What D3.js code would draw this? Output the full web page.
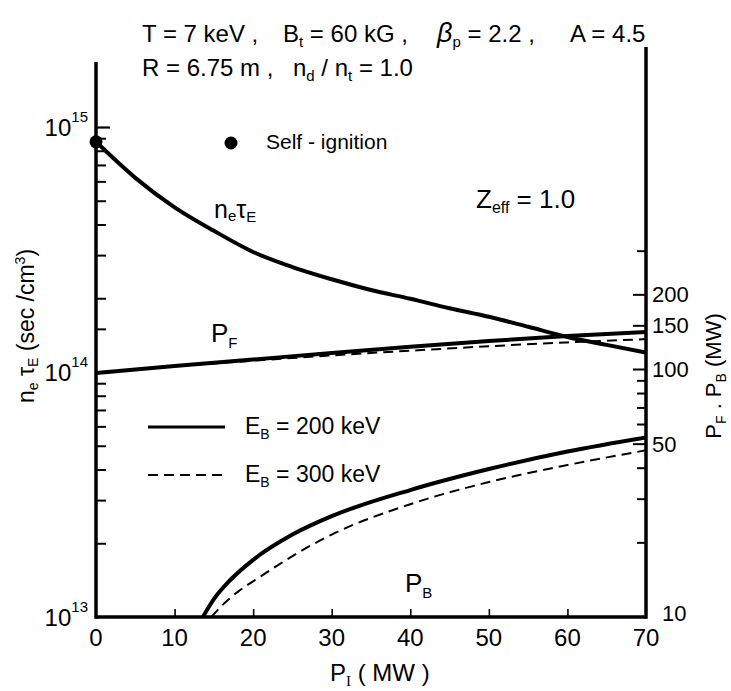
<!DOCTYPE html>
<html><head><meta charset="utf-8">
<script src="https://cdn.jsdelivr.net/npm/d3@7"></script>
<style>body{margin:0;background:#fff}svg{display:block}text{font-family:"Liberation Sans",Arial,sans-serif;fill:#000}</style>
</head><body><svg id="c" width="731" height="691"></svg>
<script>
// ---- data ----
const xTicks = [0,10,20,30,40,50,60,70];
const leftMajor = [1e13,1e14,1e15];
const leftMinor = [2e13,3e13,4e13,5e13,6e13,7e13,8e13,9e13,1.5e14,2e14,3e14,4e14,5e14,6e14,7e14,8e14,9e14];
const rightLabels = [10,50,100,150,200];
const rightMinor = [20,30,40,60,70,80,90,300];
// n_e tau_E (sec/cm^3) vs P_I (MW)
const pI = [0,5,10,15,20,25,30,35,40,45,50,55,60,65,70];
const nTau = [8.7e14,6.2e14,4.7e14,3.77e14,3.09e14,2.68e14,2.39e14,2.16e14,1.99e14,1.82e14,1.68e14,1.53e14,1.39e14,1.29e14,1.20e14];
// P_F (MW)
const pfX = [0,10,20,30,40,50,60,70];
const pf200 = [96.3,102.8,109.2,116,123,129.6,135.8,141];
const pf300 = [96.3,102.5,108,113.5,118.5,123.5,128,132];
// P_B (MW)
const pb200X = [13.6,15,17.1,20,25,30,40,50,60,70];
const pb200 = [10,11.8,14.1,17,21.5,25.5,32.5,39.5,46.5,53];
const pb300X = [14.7,16,18,21,25,30,40,50,60,70];
const pb300 = [10,11.1,12.6,14.6,17.6,21.5,28.5,35,41,47];

const svg = d3.select("#c");
const x = d3.scaleLinear().domain([0,70]).range([96,646]);
const yL = d3.scaleLog().domain([1e13,1e15]).range([617,127]);
const yR = d3.scaleLog().domain([10,100]).range([617,369]);
const AX = 3.5;

// axes lines
const g = svg.append("g");
g.append("line").attr("x1",x(0)).attr("x2",x(0)).attr("y1",62).attr("y2",yL(1e13)+AX/2).attr("stroke","#000").attr("stroke-width",AX);
g.append("line").attr("x1",x(70)).attr("x2",x(70)).attr("y1",47).attr("y2",yL(1e13)+AX/2).attr("stroke","#000").attr("stroke-width",AX);
g.append("line").attr("x1",x(0)).attr("x2",x(70)).attr("y1",yL(1e13)).attr("y2",yL(1e13)).attr("stroke","#000").attr("stroke-width",AX);

function ticks(axisFn, scale, vals, size, tx, ty, sw){
  const a = axisFn(scale).tickValues(vals).tickSize(size).tickFormat("");
  const gg = svg.append("g").attr("transform",`translate(${tx},${ty})`).call(a);
  gg.select(".domain").remove();
  gg.selectAll(".tick line").attr("stroke","#000").attr("stroke-width",sw);
}
ticks(d3.axisLeft, yL, [1e14,1e15], -14, x(0), 0, 2.2);
ticks(d3.axisLeft, yL, leftMinor, -10, x(0), 0, 2);
ticks(d3.axisRight, yR, rightLabels.filter(v=>v>10), -13, x(70), 0, 2);
ticks(d3.axisRight, yR, rightMinor, -9, x(70), 0, 2);
ticks(d3.axisBottom, x, xTicks.filter(v=>v>0&&v<70), -8, 0, yL(1e13), 1.6);

// x tick labels
svg.append("g").selectAll("text").data(xTicks).join("text")
  .attr("x",d=>x(d)).attr("y",646).attr("text-anchor","middle")
  .attr("font-size",24).text(d=>d);
// left labels 10^n
const ll = svg.append("g").selectAll("text").data(leftMajor).join("text")
  .attr("x",88).attr("y",d=>yL(d)+9).attr("text-anchor","end").attr("font-size",24);
ll.append("tspan").text("10");
ll.append("tspan").attr("dy",-14).attr("font-size",15).text(d=>Math.round(Math.log10(d)));
// right labels
svg.append("g").selectAll("text").data(rightLabels).join("text")
  .attr("x",d=>d===10?662:x(70)+6).attr("y",d=>d===10?621:yR(d)+8).attr("font-size",22).text(d=>d);

// curves
const line = (sy)=>d3.line().x(d=>x(d[0])).y(d=>sy(d[1])).curve(d3.curveMonotoneX);
const zip=(a,b)=>a.map((v,i)=>[v,b[i]]);
svg.append("clipPath").attr("id","pc").append("rect").attr("x",x(0)).attr("y",40).attr("width",x(70)-x(0)).attr("height",yL(1e13)-40);
const cg = svg.append("g").attr("clip-path","url(#pc)");
cg.append("path").attr("d",line(yL)(zip(pI,nTau))).attr("fill","none").attr("stroke","#000").attr("stroke-width",4);
cg.append("path").attr("d",line(yR)(zip(pfX,pf200))).attr("fill","none").attr("stroke","#000").attr("stroke-width",4);
cg.append("path").attr("d",line(yR)(zip(pfX,pf300))).attr("fill","none").attr("stroke","#000").attr("stroke-width",2).attr("stroke-dasharray","10,6");
cg.append("path").attr("d",line(yR)(zip(pb200X,pb200))).attr("fill","none").attr("stroke","#000").attr("stroke-width",4);
cg.append("path").attr("d",line(yR)(zip(pb300X,pb300))).attr("fill","none").attr("stroke","#000").attr("stroke-width",2).attr("stroke-dasharray","10,6");

// self-ignition dots
svg.append("circle").attr("cx",x(0)).attr("cy",yL(nTau[0])).attr("r",6.5).attr("fill","#000");
svg.append("circle").attr("cx",231).attr("cy",143).attr("r",6.5).attr("fill","#000");
svg.append("text").attr("x",266).attr("y",149).attr("font-size",21).text("Self - ignition");

// title
function seg(parent, xx, parts){
  parts.forEach((p,i)=>{
    const s = parent.append("tspan").text(p[0]);
    if(i===0) s.attr("x",xx);
    if(p[1]==="sub") s.attr("font-size",15).attr("dy",5);
    if(p[1]==="up") s.attr("dy",-5);
    if(p[1]==="it") s.attr("font-style","italic").attr("font-size",27);
  });
}
const t1 = svg.append("text").attr("y",42).attr("font-size",24);
seg(t1,142,[["T = 7 keV ,"]]);
seg(t1,283,[["B"],["t","sub"],[" = 60 kG ,","up"]]);
seg(t1,437,[["β","it"],["p","sub"],[" = 2.2 ,","up"]]);
seg(t1,570,[["A = 4.5"]]);
const t2 = svg.append("text").attr("y",76).attr("font-size",24);
seg(t2,142,[["R = 6.75 m ,"]]);
seg(t2,293,[["n"],["d","sub"],[" / n","up"],["t","sub"],["  = 1.0","up"]]);

// curve labels
const n1 = svg.append("text").attr("x",214).attr("y",218).attr("font-size",25);
n1.append("tspan").text("n");
n1.append("tspan").attr("font-size",15).attr("dy",3).text("e");
n1.append("tspan").attr("dy",-3).text("τ");
n1.append("tspan").attr("font-size",15).attr("dy",4).text("E");
const pfl = svg.append("text").attr("x",211).attr("y",342).attr("font-size",26);
pfl.append("tspan").text("P");
pfl.append("tspan").attr("font-size",15).attr("dy",6).text("F");
const pbl = svg.append("text").attr("x",405).attr("y",592).attr("font-size",26);
pbl.append("tspan").text("P");
pbl.append("tspan").attr("font-size",15).attr("dy",6).text("B");
const z = svg.append("text").attr("x",476).attr("y",208).attr("font-size",26);
z.append("tspan").text("Z");
z.append("tspan").attr("font-size",16).attr("dy",5).text("eff");
z.append("tspan").attr("dy",-5).text(" = 1.0");

// legend
svg.append("line").attr("x1",148).attr("x2",225).attr("y1",427).attr("y2",427).attr("stroke","#000").attr("stroke-width",3);
svg.append("line").attr("x1",148).attr("x2",225).attr("y1",475).attr("y2",475).attr("stroke","#000").attr("stroke-width",2).attr("stroke-dasharray","10,6");
[["E","B"," = 200 keV",434],["E","B"," = 300 keV",482]].forEach(([a,b,c,yy])=>{
  const t = svg.append("text").attr("x",245).attr("y",yy).attr("font-size",23);
  t.append("tspan").text(a);
  t.append("tspan").attr("font-size",14).attr("dy",5).text(b);
  t.append("tspan").attr("dy",-5).text(c);
});

// axis titles
const xt = svg.append("text").attr("x",330).attr("y",681).attr("font-size",24);
xt.append("tspan").text("P");
xt.append("tspan").attr("font-size",15).attr("dy",5).attr("font-family","Liberation Serif").text("I");
xt.append("tspan").attr("dy",-5).text("  ( MW )");
const yt = svg.append("text").attr("transform","translate(34,326) rotate(-90)").attr("text-anchor","middle").attr("font-size",23);
yt.append("tspan").text("n");
yt.append("tspan").attr("font-size",14).attr("dy",4).text("e");
yt.append("tspan").attr("dy",-4).text(" τ");
yt.append("tspan").attr("font-size",14).attr("dy",4).text("E");
yt.append("tspan").attr("dy",-4).text(" (sec /cm");
yt.append("tspan").attr("font-size",14).attr("dy",-9).text("3");
yt.append("tspan").attr("dy",9).text(")");
const yt2 = svg.append("text").attr("transform","translate(721,376) rotate(-90)").attr("text-anchor","middle").attr("font-size",22);
yt2.append("tspan").text("P");
yt2.append("tspan").attr("font-size",14).attr("dy",5).text("F");
yt2.append("tspan").attr("dy",-5).text(" . P");
yt2.append("tspan").attr("font-size",14).attr("dy",5).text("B");
yt2.append("tspan").attr("dy",-5).text(" (MW)");
</script></body></html>
